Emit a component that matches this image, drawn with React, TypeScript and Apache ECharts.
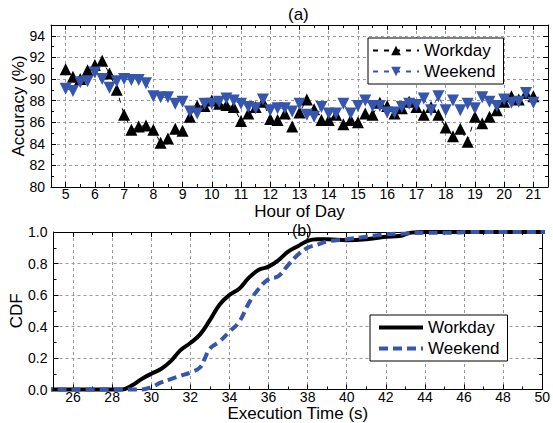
import React, { useEffect, useRef } from 'react';
import * as echarts from 'echarts';

// (a) Accuracy by hour of day
const hours = [5, 5.25, 5.5, 5.75, 6, 6.25, 6.5, 6.75, 7, 7.25, 7.5, 7.75, 8, 8.25, 8.5, 8.75, 9, 9.25, 9.5, 9.75, 10, 10.25, 10.5, 10.75, 11, 11.25, 11.5, 11.75, 12, 12.25, 12.5, 12.75, 13, 13.25, 13.5, 13.75, 14, 14.25, 14.5, 14.75, 15, 15.25, 15.5, 15.75, 16, 16.25, 16.5, 16.75, 17, 17.25, 17.5, 17.75, 18, 18.25, 18.5, 18.75, 19, 19.25, 19.5, 19.75, 20, 20.25, 20.5, 20.75, 21];
const workdayAcc = [90.9, 90.2, 90.0, 90.8, 91.3, 91.7, 90.5, 89.0, 86.7, 85.3, 85.6, 85.7, 85.3, 84.1, 84.5, 85.4, 85.2, 86.5, 87.5, 87.5, 88.0, 87.7, 87.6, 87.4, 86.1, 86.8, 87.4, 87.9, 86.3, 86.2, 86.8, 85.6, 86.9, 88.1, 87.2, 86.2, 86.2, 86.7, 85.8, 86.2, 86.0, 86.8, 86.7, 87.8, 87.5, 86.8, 87.3, 87.9, 87.4, 86.7, 87.4, 86.7, 85.5, 84.7, 85.4, 84.2, 86.5, 85.9, 86.5, 87.1, 87.9, 88.4, 88.1, 88.7, 88.4];
const weekendAcc = [89.1, 88.9, 89.7, 89.8, 90.6, 90.0, 89.2, 89.8, 90.0, 89.9, 89.9, 89.6, 88.4, 88.3, 88.3, 87.7, 87.9, 87.0, 86.8, 87.7, 87.7, 87.9, 88.2, 88.0, 87.7, 87.4, 87.3, 88.1, 87.1, 87.3, 87.3, 87.0, 87.7, 86.7, 86.5, 87.4, 86.8, 86.8, 87.7, 86.8, 87.5, 88.0, 87.5, 87.5, 86.9, 86.9, 87.4, 87.7, 87.6, 88.2, 87.1, 88.4, 87.1, 88.0, 87.1, 87.7, 87.3, 88.3, 87.9, 87.5, 88.1, 87.8, 87.9, 88.7, 87.8];

// (b) CDF of execution time
const workdayTime = [24.5, 28.5, 29, 29.5, 30, 30.5, 31, 31.5, 32, 32.5, 33, 33.5, 34, 34.5, 35, 35.5, 36, 36.5, 37, 37.5, 38, 38.5, 39, 40, 41, 42, 42.7, 43.3, 44, 50.3];
const workdayCdf = [0, 0, 0.025, 0.066, 0.10, 0.13, 0.18, 0.25, 0.295, 0.35, 0.44, 0.54, 0.60, 0.64, 0.71, 0.76, 0.78, 0.82, 0.875, 0.91, 0.944, 0.954, 0.954, 0.948, 0.954, 0.97, 0.975, 0.996, 1.0, 1.0];
const weekendTime = [24.5, 29.5, 30, 30.5, 31, 31.5, 32, 32.5, 32.75, 33, 33.5, 34, 34.5, 35, 35.5, 36, 36.5, 37, 37.5, 38, 38.5, 39, 40, 41, 42, 43, 44, 45.3, 46.3, 50.3];
const weekendCdf = [0, 0, 0.015, 0.045, 0.066, 0.087, 0.108, 0.14, 0.20, 0.26, 0.305, 0.367, 0.43, 0.55, 0.64, 0.70, 0.72, 0.79, 0.855, 0.90, 0.92, 0.94, 0.954, 0.97, 0.985, 0.99, 0.995, 0.995, 1.0, 1.0];

const seriesNames = ['Workday', 'Weekend'];

const FONT = "'Liberation Sans', Arial, Helvetica, sans-serif";
const BLUE = '#3656ad';

export default function App() {
  const ref = useRef<HTMLDivElement>(null);
  useEffect(() => {
    const chart = echarts.init(ref.current!, null, { renderer: 'svg' });
    const gridLine = { show: true, lineStyle: { color: '#9a9a9a', type: [3, 3], width: 1 } };
    const axisLine = { show: true, onZero: false, lineStyle: { color: '#000', width: 1 } };
    const tick = { show: true, inside: true, length: 5, lineStyle: { color: '#000' } };
    const minor = { show: true, splitNumber: 2, length: 3, lineStyle: { color: '#000' } };
    const label = { color: '#000', fontSize: 14, lineHeight: 14, fontFamily: FONT };
    const nameStyle = { color: '#000', fontSize: 17, fontFamily: FONT, lineHeight: 16 };
    const mirror = { axisLine, axisTick: tick, minorTick: minor, splitLine: { show: false }, axisLabel: { show: false } };

    const pair = (xs: number[], ys: number[]) => xs.map((x, i) => [x, ys[i]]);

    const solidIcon = 'path://M0,0H44V4H0Z';
    const dashIcon = 'path://M0,0h9v4h-9z M14,0h9v4h-9z M28,0h9v4h-9z M42,0h2v4h-2z';

    const option: any = {
      animation: false,
      backgroundColor: '#fff',
      textStyle: { fontFamily: FONT },
      title: [
        { text: '(a)', left: 288, top: 6, padding: 0, textStyle: { fontSize: 17, fontWeight: 'normal', color: '#000', fontFamily: FONT } },
        { text: '(b)', left: 292, top: 222, padding: 0, textStyle: { fontSize: 16, lineHeight: 16, fontWeight: 'normal', color: '#000', fontFamily: FONT } },
      ],
      grid: [
        { left: 51, right: 5, top: 25, height: 162 },
        { left: 50, right: 6, top: 232, height: 160 },
      ],
      xAxis: [
        {
          gridIndex: 0, type: 'value', min: 4.5, max: 21.5, minInterval: 1, maxInterval: 1, splitNumber: 17,
          position: 'bottom', axisLine, axisTick: tick, minorTick: minor, splitLine: gridLine,
          axisLabel: { ...label, margin: 0, formatter: (v: number) => (Number.isInteger(v) ? String(v) : '') },
          name: 'Hour of Day', nameLocation: 'middle', nameGap: 16.5, nameMoveOverlap: false, nameTextStyle: nameStyle,
        },
        { gridIndex: 0, type: 'value', min: 4.5, max: 21.5, minInterval: 1, maxInterval: 1, splitNumber: 17, position: 'top', ...mirror },
        {
          gridIndex: 1, type: 'value', min: 25, max: 50, minInterval: 2, maxInterval: 2, splitNumber: 12,
          position: 'bottom', axisLine, axisTick: tick, minorTick: minor, splitLine: gridLine,
          axisLabel: { ...label, margin: 0, formatter: (v: number) => (v % 2 === 0 ? String(v) : '') },
          name: 'Execution Time (s)', nameLocation: 'middle', nameGap: 16, nameMoveOverlap: false, nameTextStyle: nameStyle,
        },
        { gridIndex: 1, type: 'value', min: 25, max: 50, minInterval: 2, maxInterval: 2, splitNumber: 12, position: 'top', ...mirror },
      ],
      yAxis: [
        {
          gridIndex: 0, type: 'value', min: 80, max: 95, minInterval: 2, maxInterval: 2, splitNumber: 7,
          position: 'left', axisLine, axisTick: tick, minorTick: minor, splitLine: gridLine,
          axisLabel: { ...label, margin: 6, formatter: (v: number) => (v === 95 ? '' : String(v)) },
          name: 'Accuracy (%)', nameLocation: 'middle', nameGap: 25, nameMoveOverlap: false, nameTextStyle: nameStyle,
        },
        { gridIndex: 0, type: 'value', min: 80, max: 95, minInterval: 2, maxInterval: 2, splitNumber: 7, position: 'right', ...mirror },
        {
          gridIndex: 1, type: 'value', min: 0, max: 1, interval: 0.2,
          position: 'left', axisLine, axisTick: tick, minorTick: minor, splitLine: gridLine,
          axisLabel: { ...label, margin: 6, formatter: (v: number) => v.toFixed(1) },
          name: 'CDF', nameLocation: 'middle', nameGap: 29, nameMoveOverlap: false, nameTextStyle: nameStyle,
        },
        { gridIndex: 1, type: 'value', min: 0, max: 1, interval: 0.2, position: 'right', ...mirror },
      ],
      legend: [
        {
          data: seriesNames, orient: 'vertical', left: 368, top: 38, padding: [3, 8, 3, 4], itemGap: 2,
          itemWidth: 46, itemHeight: 12, borderColor: '#000', borderWidth: 1, borderRadius: 0, backgroundColor: '#fff',
          textStyle: { fontSize: 17, color: '#000', fontFamily: FONT, lineHeight: 19 },
        },
        {
          data: [
            { name: seriesNames[0] + '-cdf', icon: solidIcon },
            { name: seriesNames[1] + '-cdf', icon: dashIcon },
          ],
          orient: 'vertical', left: 370, top: 315, padding: [3, 8, 3, 9], itemGap: 2,
          itemWidth: 44, itemHeight: 4, borderColor: '#000', borderWidth: 1, borderRadius: 0, backgroundColor: '#fff',
          textStyle: { fontSize: 17, color: '#000', fontFamily: FONT, lineHeight: 19 },
          formatter: (n: string) => n.replace('-cdf', ''),
        },
      ],
      series: [
        {
          name: seriesNames[0], type: 'line', xAxisIndex: 0, yAxisIndex: 0, data: pair(hours, workdayAcc),
          symbol: 'triangle', symbolSize: 12, color: '#000',
          itemStyle: { color: '#000' }, lineStyle: { color: '#000', width: 1, type: [5, 6] },
        },
        {
          name: seriesNames[1], type: 'line', xAxisIndex: 0, yAxisIndex: 0, data: pair(hours, weekendAcc),
          symbol: 'triangle', symbolRotate: 180, symbolSize: 12, color: BLUE,
          itemStyle: { color: BLUE }, lineStyle: { color: BLUE, width: 1, type: [5, 6] },
        },
        {
          name: seriesNames[0] + '-cdf', type: 'line', xAxisIndex: 2, yAxisIndex: 2, data: pair(workdayTime, workdayCdf),
          showSymbol: false, symbol: 'none', smooth: 0.4, clip: false, color: '#000',
          lineStyle: { color: '#000', width: 4 },
        },
        {
          name: seriesNames[1] + '-cdf', type: 'line', xAxisIndex: 2, yAxisIndex: 2, data: pair(weekendTime, weekendCdf),
          showSymbol: false, symbol: 'none', smooth: 0.4, clip: false, color: BLUE,
          lineStyle: { color: BLUE, width: 4, type: [9, 5] },
        },
      ],
    };
    chart.setOption(option);
    return () => chart.dispose();
  }, []);
  return <div ref={ref} style={{ position: 'fixed', left: 0, top: 0, width: 553, height: 423, background: '#fff' }} />;
}
